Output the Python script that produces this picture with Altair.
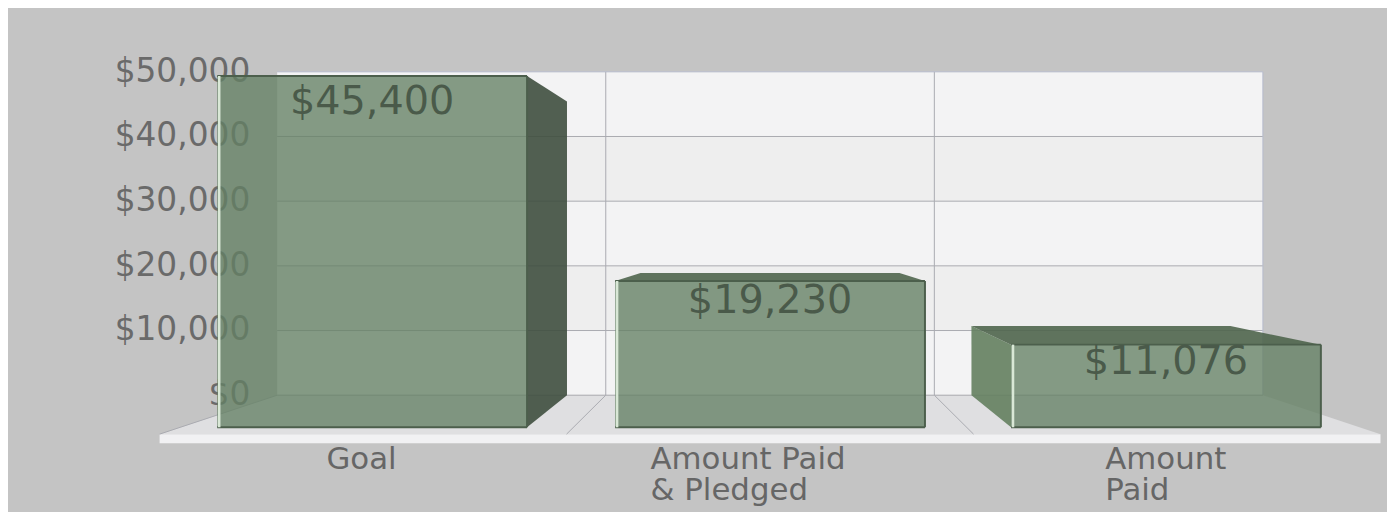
import altair as alt
import pandas as pd

categories = ["Goal", "Amount Paid\n& Pledged", "Amount\nPaid"]
value_labels = ["$45,400", "$19,230", "$11,076"]
bar_tops = [45400, 18900, 10680]
bar_centers = [0.488, 1.5, 2.507]
label_drop = [4100, 3100, 2700]
category_left = [0.15, 1.136, 2.52]
tick_values = [0, 10000, 20000, 30000, 40000, 50000]
tick_labels = ["$0", "$10,000", "$20,000", "$30,000", "$40,000", "$50,000"]
bar_half = 0.394

S_FRONT, S_FLOOR = 1.1966, 1.2386
VX, VY = 1.5, 25232

def proj(slot, dollars, s=1.0):
    return VX + s * (slot - VX), VY + s * (dollars - VY)

x_scale = alt.Scale(domain=[(8 - 277) / 328.33, (8 - 277) / 328.33 + 4.197], nice=False, zero=False)
y_scale = alt.Scale(domain=[-17836, 59644], nice=False, zero=False)
X = lambda f="x": alt.X(f"{f}:Q", scale=x_scale, axis=None)
Y = lambda f="y": alt.Y(f"{f}:Q", scale=y_scale, axis=None)

def rects(rows, color, opacity=1.0):
    return alt.Chart(pd.DataFrame(rows)).mark_rect(color=color, opacity=opacity).encode(
        x=X("x"), x2="x2:Q", y=Y("y"), y2="y2:Q")

def rules(rows, color, width=1.0, opacity=1.0):
    return alt.Chart(pd.DataFrame(rows)).mark_rule(color=color, strokeWidth=width, opacity=opacity).encode(
        x=X("x"), x2="x2:Q", y=Y("y"), y2="y2:Q")

def side_face(rows, color, opacity=1.0):
    return alt.Chart(pd.DataFrame(rows)).mark_area(color=color, opacity=opacity).encode(
        x=X("x"), y=Y("y"), y2="y2:Q", detail="k:N")

def flat_face(rows, color, opacity=1.0):
    return alt.Chart(pd.DataFrame(rows)).mark_area(color=color, opacity=opacity, orient="horizontal").encode(
        y=Y("y"), x=X("x"), x2="x2:Q", detail="k:N")

def rule_row(a, b):
    return {"x": a[0], "y": a[1], "x2": b[0], "y2": b[1]}

tick_df = pd.DataFrame({"t": tick_labels, "y": tick_values, "x": [-0.082] * 6})
tick_text = alt.Chart(tick_df).mark_text(font="DejaVu Sans", fontSize=33, color="#6a6a6a", align="right").encode(
    x=X("x"), y=Y("y"), text="t:N")

wall = rects([{"x": 0, "x2": 3, "y": 0, "y2": 50000}], "#f3f3f4")
bands = rects([{"x": 0, "x2": 3, "y": tick_values[i], "y2": tick_values[i + 1]} for i in (1, 3)], "#eeeeee")
h_grid = rules([{"x": 0, "x2": 3, "y": v, "y2": v} for v in tick_values[1:-1]], "#a9aab0")
v_grid = rules([{"x": v, "x2": v, "y": 0, "y2": 50000} for v in (1, 2)], "#a9aab0")
wall_edge = rules([{"x": 0, "x2": 3, "y": 50000, "y2": 50000},
                   {"x": 3, "x2": 3, "y": 0, "y2": 50000}], "#b4b9cc")

fb_l, fb_y = proj(0, 0)
fb_r, _ = proj(3, 0)
ff_l, ff_y = proj(0, 0, S_FLOOR)
ff_r, _ = proj(3, 0, S_FLOOR)
floor = flat_face([{"k": 0, "y": fb_y, "x": fb_l, "x2": fb_r}, {"k": 0, "y": ff_y, "x": ff_l, "x2": ff_r}], "#dfdfe1")
strip = rects([{"x": ff_l, "x2": ff_r, "y": ff_y, "y2": ff_y - 1400}], "#f1f1f3")
floor_lines = rules([rule_row(proj(v, 0), proj(v, 0, S_FLOOR)) for v in (0, 1, 2)], "#a9aab0")
floor_back = rules([rule_row(proj(0, 0), proj(3, 0))], "#a9aab0")

top_rows, left_rows, right_rows, front_rows = [], [], [], []
edge_dark, edge_light = [], []
for i, (c, t) in enumerate(zip(bar_centers, bar_tops)):
    l, r = c - bar_half, c + bar_half
    lb_x, tb_y = proj(l, t)
    rb_x, bb_y = proj(r, 0)
    lf_x, tf_y = proj(l, t, S_FRONT)
    rf_x, bf_y = proj(r, 0, S_FRONT)
    if i > 0:
        top_rows += [{"k": i, "y": tb_y, "x": lb_x, "x2": rb_x}, {"k": i, "y": tf_y, "x": lf_x, "x2": rf_x}]
    if i == 2:
        left_rows += [{"k": i, "x": lb_x, "y": tb_y, "y2": bb_y}, {"k": i, "x": lf_x, "y": tf_y, "y2": bf_y}]
    if i == 0:
        right_rows += [{"k": i, "x": rb_x, "y": tb_y, "y2": bb_y}, {"k": i, "x": rf_x, "y": tf_y, "y2": bf_y}]
    front_rows.append({"x": lf_x, "x2": rf_x, "y": bf_y, "y2": tf_y})
    edge_dark += [{"x": lf_x, "x2": rf_x, "y": bf_y, "y2": bf_y}, {"x": lf_x, "x2": rf_x, "y": tf_y, "y2": tf_y},
                  {"x": rf_x, "x2": rf_x, "y": bf_y, "y2": tf_y}]
    edge_light.append({"x": lf_x + 0.006, "x2": lf_x + 0.006, "y": bf_y, "y2": tf_y})

left_f = side_face(left_rows, "#64805f", 0.9)
right_f = side_face(right_rows, "#3f4f3f", 0.9)
top_f = flat_face(top_rows, "#4f654c", 0.9)
front_f = rects(front_rows, "#648064", 0.78)
dark = rules(edge_dark, "#4c5f4c", 2)
light = rules(edge_light, "#d9e8d6", 2.5)

label_df = pd.DataFrame({
    "t": value_labels,
    "x": [proj(c, 0, S_FRONT)[0] for c in bar_centers],
    "y": [proj(0, t, S_FRONT)[1] - d for t, d in zip(bar_tops, label_drop)],
})
value_text = alt.Chart(label_df).mark_text(font="DejaVu Sans", fontSize=40, color="#4a5a4a").encode(
    x=X("x"), y=Y("y"), text="t:N")

cat_df = pd.DataFrame({"t": categories, "x": category_left, "y": [-7700] * 3})
cat_text = alt.Chart(cat_df).mark_text(font="DejaVu Sans", fontSize=31, color="#666666", align="left",
                                       baseline="top", lineBreak="\n", lineHeight=31).encode(
    x=X("x"), y=Y("y"), text="t:N")

chart = alt.layer(
    tick_text, wall, bands, h_grid, v_grid, wall_edge, floor, strip, floor_lines, floor_back,
    left_f, right_f, top_f, front_f, dark, light, value_text, cat_text,
).properties(
    width=1387, height=504, padding=0, background="#c4c4c4",
    autosize=alt.AutoSizeParams(type="none"),
).configure_view(stroke=None)

chart.save("out.html", embed_options={"renderer": "svg", "actions": False})
